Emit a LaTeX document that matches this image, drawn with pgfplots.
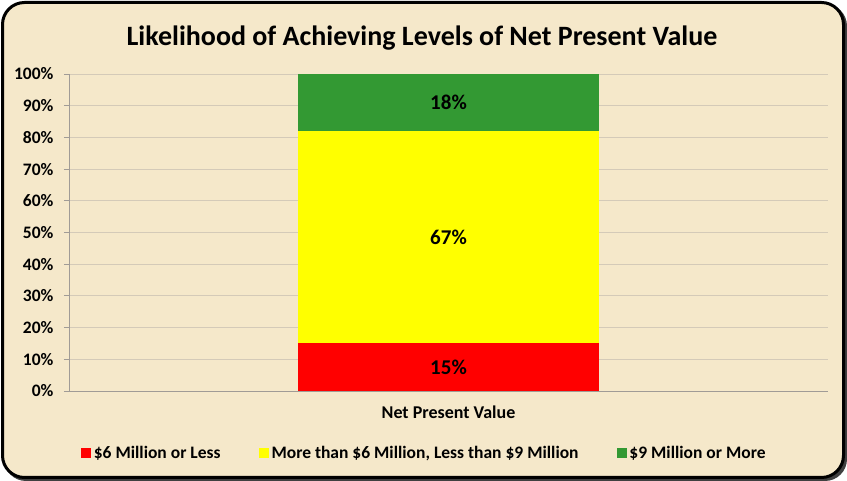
\documentclass[border=0pt]{standalone}
\usepackage{pgfplots}
\pgfplotsset{compat=1.18}
\usepackage{fontspec}
\setmainfont{Carlito}
\definecolor{bgc}{RGB}{245,232,202}
\definecolor{gridc}{RGB}{212,202,184}
\definecolor{axc}{RGB}{160,155,150}
\definecolor{xred}{RGB}{255,0,0}
\definecolor{xyel}{RGB}{255,255,0}
\definecolor{xgrn}{RGB}{51,153,51}
\begin{document}
\begin{tikzpicture}[x=1pt,y=1pt]
\path[use as bounding box] (0,0) rectangle (847,481);
\fill[black!75, rounded corners=22pt] (4,0) rectangle (847,477);
\fill[bgc, rounded corners=22pt] (2,4) rectangle (843,479);
\draw[black, line width=3pt, rounded corners=22pt] (2.5,3.5) rectangle (843.5,478.5);
\node[font=\fontsize{28}{32}\selectfont\bfseries] at (422,443) {Likelihood of Achieving Levels of Net Present Value};
\begin{axis}[
  at={(69pt,90pt)}, anchor=south west,
  width=759pt, height=317pt, scale only axis,
  ybar stacked, bar width=301pt,
  xmin=-0.5, xmax=0.5, ymin=0, ymax=100,
  axis x line*=bottom, axis y line*=left,
  axis line style={axc, line width=0.8pt},
  ytick={0,10,...,100},
  yticklabels={0\%,10\%,20\%,30\%,40\%,50\%,60\%,70\%,80\%,90\%,100\%},
  ymajorgrids, grid style={gridc, line width=0.8pt},
  y tick label style={font=\fontsize{17.5}{20}\selectfont\bfseries, xshift=-7pt},
  ytick style={axc, line width=0.8pt},
  tick align=outside, major tick length=5pt,
  xtick={0}, xticklabels={Net Present Value},
  x tick label style={font=\fontsize{18}{21}\selectfont\bfseries, yshift=-6pt},
  xtick style={draw=none},
  extra x ticks={-0.5,0.5}, extra x tick labels={},
  extra x tick style={xtick style={axc, line width=0.8pt}, tick align=inside, major tick length=6pt, grid=none},
  legend columns=3,
  legend style={at={(0.468,-0.196)}, anchor=center, draw=none, fill=none,
    font=\fontsize{17.5}{20}\selectfont\bfseries,
    /tikz/every even column/.append style={column sep=36pt},
    /tikz/every odd column/.append style={column sep=1pt}},
  legend image code/.code={\path[#1, draw=none] (0pt,-5pt) rectangle (10pt,5pt);},
]
\addplot[fill=xred, draw=none] coordinates {(0,15)};
\addplot[fill=xyel, draw=none] coordinates {(0,67)};
\addplot[fill=xgrn, draw=none] coordinates {(0,18)};
\legend{\$6 Million or Less, {More than \$6 Million, Less than \$9 Million}, \$9 Million or More}
\end{axis}
\begin{axis}[
  at={(69pt,90pt)}, anchor=south west,
  width=759pt, height=317pt, scale only axis,
  xmin=-0.5, xmax=0.5, ymin=0, ymax=100, hide axis]
\addplot[draw=none, mark=none, nodes near coords, point meta=explicit symbolic,
  nodes near coords align=center,
  every node near coord/.append style={font=\fontsize{21}{24}\selectfont\bfseries, anchor=center, text=black}]
  coordinates {(0,7.5)[15\%] (0,48.5)[67\%] (0,91)[18\%]};
\end{axis}
\end{tikzpicture}
\end{document}
